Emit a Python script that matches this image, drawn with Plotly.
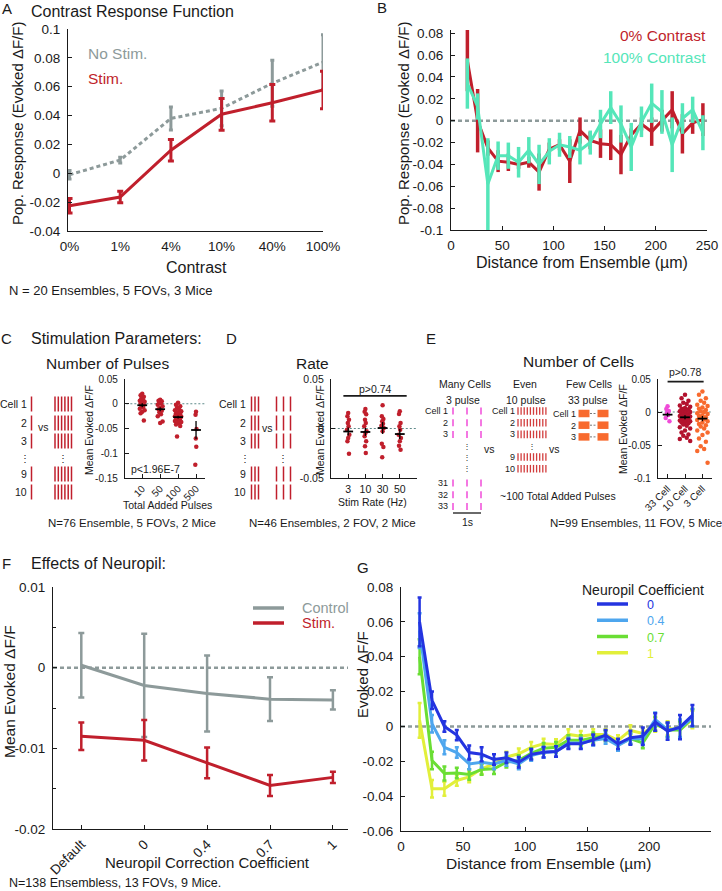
import plotly.graph_objects as go

W, H = 722, 891

# ---------------- data ----------------
# A: contrast response function
contrast_labels = ["0%", "1%", "4%", "10%", "40%", "100%"]
nostim_mean = [-0.001, 0.0092, 0.038, 0.045, 0.0624, 0.077]
nostim_err = [0.003, 0.002, 0.008, 0.012, 0.016, 0.019]
stim_mean = [-0.0225, -0.0165, 0.016, 0.0409, 0.0489, 0.0577]
stim_err = [0.005, 0.004, 0.0075, 0.011, 0.0127, 0.013]

# B: response vs distance
dist_b = [16, 26, 36, 46, 56, 66, 76, 86, 96, 106, 116, 126, 136, 146, 156, 166,
          176, 186, 196, 206, 216, 226, 236, 246]
zero_mean = [0.055, 0.0, -0.025, -0.037, -0.038, -0.04, -0.038, -0.047, -0.026, -0.022,
             -0.037, -0.009, -0.018, -0.021, -0.022, -0.031, -0.013, -0.003, -0.01, 0.0,
             0.01, -0.012, -0.002, 0.001]
zero_err = [0.028, 0.029, 0.007, 0.01, 0.008, 0.004, 0.005, 0.017, 0.006, 0.005,
            0.02, 0.012, 0.008, 0.013, 0.014, 0.018, 0.006, 0.006, 0.013, 0.01,
            0.017, 0.018, 0.01, 0.015]
full_mean = [0.034, 0.013, -0.058, -0.032, -0.032, -0.038, -0.027, -0.04, -0.028, -0.022,
             -0.024, -0.027, -0.02, -0.003, 0.012, -0.003, -0.024, -0.001, 0.016, 0.008,
             -0.022, 0.002, 0.01, -0.011]
full_err = [0.023, 0.012, 0.042, 0.013, 0.012, 0.014, 0.012, 0.018, 0.012, 0.011,
            0.01, 0.013, 0.011, 0.013, 0.015, 0.017, 0.022, 0.014, 0.018, 0.02,
            0.025, 0.014, 0.012, 0.016]

# C: number of pulses
pulse_labels = ["10", "50", "100", "500"]
pulse_dots = [
    [0.020, 0.017, 0.014, 0.011, 0.008, 0.006, 0.004, 0.002, 0.0, -0.002, -0.004,
     -0.007, -0.010, -0.013, -0.016, -0.019, -0.034],
    [0.008, 0.006, 0.005, 0.003, 0.001, -0.002, -0.005, -0.008, -0.011, -0.014,
     -0.017, -0.021, -0.025, -0.036, -0.039],
    [0.002, -0.002, -0.005, -0.008, -0.011, -0.013, -0.015, -0.017, -0.019, -0.020,
     -0.021, -0.023, -0.025, -0.026, -0.027, -0.029, -0.030, -0.031, -0.033, -0.035,
     -0.037, -0.039, -0.042, -0.045, -0.066],
    [-0.016, -0.022, -0.051, -0.070, -0.087, -0.123],
]
pulse_mean = [-0.003, -0.011, -0.027, -0.053]
pulse_err = [0.004, 0.004, 0.003, 0.018]

# D: stim rate
rate_labels = ["3", "10", "30", "50"]
rate_dots = [
    [0.0157, 0.0123, 0.0089, 0.0056, 0.0022, -0.0012, -0.0062, -0.0096, -0.013, -0.0254],
    [0.0197, 0.017, 0.0143, 0.0089, 0.0056, 0.0022, -0.0029, -0.0045, -0.0079, -0.013,
     -0.018, -0.0247],
    [0.0234, 0.0123, 0.0096, 0.0072, 0.0049, 0.0029, 0.0005, -0.0029, -0.0153, -0.0187,
     -0.029],
    [0.0173, 0.0146, 0.0056, 0.0022, -0.0012, -0.0062, -0.0096, -0.013, -0.0173, -0.0214],
]
rate_mean = [-0.003, -0.0035, 0.0005, -0.0056]
rate_err = [0.004, 0.004, 0.006, 0.005]

# E: number of cells
cell_labels = ["33 Cell", "10 Cell", "3 Cell"]
cell_dots = [
    [0.0086, 0.0045, 0.0015, -0.0015, -0.0045, -0.009, -0.014],
    [0.026, 0.021, 0.017, 0.014, 0.012, 0.010, 0.008, 0.006, 0.005, 0.004, 0.003, 0.002,
     0.001, 0.0, -0.001, -0.002, -0.003, -0.004, -0.005, -0.006, -0.007, -0.008, -0.009,
     -0.010, -0.011, -0.012, -0.013, -0.014, -0.015, -0.016, -0.017, -0.019, -0.021,
     -0.023, -0.025, -0.028, -0.031, -0.034, -0.036, -0.039, -0.041, -0.044],
    [0.031, 0.026, 0.021, 0.017, 0.014, 0.011, 0.009, 0.007, 0.005, 0.003, 0.001, 0.0,
     -0.002, -0.003, -0.005, -0.006, -0.008, -0.009, -0.011, -0.012, -0.014, -0.016,
     -0.018, -0.020, -0.022, -0.025, -0.028, -0.031, -0.035, -0.040, -0.045, -0.052,
     -0.056, -0.059, -0.077],
]
cell_mean = [-0.004, -0.008, -0.010]
cell_err = [0.003, 0.003, 0.004]

# F: neuropil correction
coef_labels = ["Default", "0", "0.4", "0.7", "1"]
control_mean = [0.0003, -0.0022, -0.0032, -0.0039, -0.004]
control_err = [0.004, 0.0064, 0.0047, 0.0027, 0.0012]
stimf_mean = [-0.0085, -0.009, -0.0118, -0.0146, -0.0136]
stimf_err = [0.0017, 0.0025, 0.0019, 0.0013, 0.0007]

# G: distance curves per neuropil coefficient
dist_g = [15, 25, 35, 45, 55, 65, 75, 85, 95, 105, 115, 125, 135, 145, 155, 165, 175,
          185, 195, 205, 215, 225, 235]
g_names = ["0", "0.4", "0.7", "1"]
g_coef0 = [0.06, 0.015, 0.0, -0.005, -0.015, -0.016, -0.019, -0.018, -0.0205, -0.016,
           -0.0148, -0.0144, -0.01, -0.01, -0.0077, -0.005, -0.01, -0.0065, -0.0056,
           0.0025, -0.0027, -0.0004, 0.0063]
g_coef04 = [0.055, 0.0015, -0.012, -0.015, -0.0215, -0.0205, -0.0215, -0.0195, -0.0215,
            -0.0167, -0.0148, -0.0144, -0.0095, -0.0095, -0.008, -0.007, -0.011, -0.007,
            -0.007, 0.004, -0.002, -0.001, 0.005]
g_coef07 = [0.04, -0.0195, -0.027, -0.0267, -0.0276, -0.0247, -0.0243, -0.0205, -0.0195,
            -0.0155, -0.0125, -0.012, -0.008, -0.008, -0.0065, -0.0055, -0.0105, -0.007,
            -0.0095, 0.0015, -0.002, -0.002, 0.005]
g_coef1 = [0.0035, -0.0358, -0.0358, -0.031, -0.029, -0.0243, -0.0215, -0.0176, -0.0157,
           -0.012, -0.01, -0.0104, -0.0046, -0.0056, -0.0046, -0.0046, -0.008, -0.0023,
           -0.004, 0.001, -0.001, -0.002, 0.004]
g_err0 = [0.014, 0.005, 0.003, 0.003, 0.004, 0.004, 0.003, 0.003, 0.003, 0.003, 0.003,
          0.003, 0.003, 0.003, 0.003, 0.003, 0.003, 0.004, 0.005, 0.005, 0.005, 0.007, 0.006]
g_err_other = [0.010, 0.005, 0.004, 0.003, 0.003, 0.003, 0.003, 0.003, 0.003, 0.003,
               0.003, 0.003, 0.003, 0.003, 0.003, 0.003, 0.003, 0.003, 0.003, 0.004,
               0.004, 0.005, 0.005]

# ---------------- styling ----------------
FONT = "Arial, Liberation Sans, sans-serif"
INK = "#1a1a1a"
RED = "#c01f2c"
GRAY = "#8d9a9a"
CYAN = "#55e6b9"
MAGENTA = "#f04bd8"
DARKRED = "#b3122e"
ORANGE = "#f86a2e"
G_COLORS = ["#2434e0", "#4ea6ee", "#6ade34", "#e2ef3a"]
DOT = "4px,3px"


def fx(px):
    return px / W


def fy(py):
    return 1 - py / H


def ax_name(n, letter):
    return f"{letter}axis" if n == 1 else f"{letter}axis{n}"


def ref(n, letter):
    return letter if n == 1 else f"{letter}{n}"


layout = {}
annotations = []


def add_axes(n, xpx, ypx, xrange, yrange, xt, yt, size=13, xangle=0, xstand=3, ystand=4):
    base = dict(showline=True, linecolor=INK, linewidth=1.2, ticks="inside", ticklen=4,
                tickcolor=INK, showgrid=False, zeroline=False, automargin=False,
                tickfont=dict(size=size, color=INK, family=FONT))
    layout[ax_name(n, "x")] = dict(base, domain=[fx(xpx[0]), fx(xpx[1])], range=xrange,
                                   anchor=ref(n, "y"), tickmode="array", tickvals=xt[0],
                                   ticktext=xt[1], tickangle=xangle,
                                   ticklabelstandoff=xstand)
    layout[ax_name(n, "y")] = dict(base, domain=[fy(ypx[1]), fy(ypx[0])], range=yrange,
                                   anchor=ref(n, "x"), tickmode="array", tickvals=yt[0],
                                   ticktext=yt[1], ticklabelstandoff=ystand)


def note(text, x, y, size=13, color=INK, xanchor="center", angle=0):
    annotations.append(dict(text=text, x=fx(x), y=fy(y), xref="paper", yref="paper",
                            showarrow=False, xanchor=xanchor, yanchor="middle",
                            align=xanchor if xanchor != "center" else "center",
                            textangle=angle, font=dict(size=size, color=color, family=FONT)))


def stack(labels, x, y_mid, size):
    # right-aligned block of row labels, one text
    note("<br>".join(labels), x, y_mid, size, xanchor="right")


fig = go.Figure()


def line(n, x, y, color, width=3, dash=None, err=None, ethick=3, ewidth=3, clip=True):
    fig.add_trace(go.Scatter(
        x=x, y=y, mode="lines", xaxis=ref(n, "x"), yaxis=ref(n, "y"),
        line=dict(color=color, width=width, dash=dash), cliponaxis=clip,
        error_y=dict(type="data", array=err, color=color, thickness=ethick,
                     width=ewidth, visible=err is not None),
        showlegend=False, hoverinfo="skip"))


def hline(n, x0, x1, color, width=2.5, dash=DOT, yv=0):
    fig.add_trace(go.Scatter(x=[x0, x1], y=[yv, yv], mode="lines", xaxis=ref(n, "x"),
                             yaxis=ref(n, "y"), line=dict(color=color, width=width, dash=dash),
                             showlegend=False, hoverinfo="skip"))


jit = [0.0, -0.09, 0.09, -0.045, 0.045, -0.135, 0.135]


def swarm(n, dots, means, errs, colors, spread):
    hline(n, -1, 10, "#5f8a8a", width=1, dash="2px,2px")
    for i, col in enumerate(dots):
        xs = [i + 1 + jit[k % len(jit)] * spread[i] for k in range(len(col))]
        fig.add_trace(go.Scatter(x=xs, y=col, mode="markers", xaxis=ref(n, "x"),
                                 yaxis=ref(n, "y"), marker=dict(size=4.5, color=colors[i]),
                                 showlegend=False, hoverinfo="skip"))
    fig.add_trace(go.Scatter(
        x=[i + 1 for i in range(len(means))], y=means, mode="markers",
        xaxis=ref(n, "x"), yaxis=ref(n, "y"),
        marker=dict(symbol="line-ew", size=7, line=dict(width=1.8, color="black")),
        error_y=dict(type="data", array=errs, color="black", thickness=1.3, width=0),
        showlegend=False, hoverinfo="skip"))


# ---------- A ----------
add_axes(1, (68, 323), (29, 231), [-0.03, 5.0], [-0.04, 0.1],
         (list(range(6)), contrast_labels),
         ([-0.04, -0.02, 0, 0.02, 0.04, 0.06, 0.08, 0.1],
          ["-0.04", "-0.02", "0", "0.02", "0.04", "0.06", "0.08", "0.1"]), size=13.5)
layout["xaxis"]["ticks"] = ""
line(1, list(range(6)), nostim_mean, GRAY, dash=DOT, err=nostim_err, ewidth=2, clip=False)
line(1, list(range(6)), stim_mean, RED, err=stim_err, clip=False)
note("A", 7, 9, 15)
note("Contrast Response Function", 29, 11, 16, xanchor="left")
note("Pop. Response (Evoked ΔF/F)", 17, 124, 15, angle=-90)
note("Contrast", 196, 267, 16)
note("No Stim.", 86, 54, 15.5, GRAY, xanchor="left")
note("Stim.", 86, 78, 15.5, RED, xanchor="left")
note("N = 20 Ensembles, 5 FOVs, 3 Mice", 7, 290, 13, xanchor="left")

# ---------- B ----------
add_axes(2, (451, 707), (30, 230), [0, 250], [-0.1, 0.083],
         ([0, 50, 100, 150, 200, 250], ["0", "50", "100", "150", "200", "250"]),
         ([-0.1, -0.08, -0.06, -0.04, -0.02, 0, 0.02, 0.04, 0.06, 0.08],
          ["-0.1", "-0.08", "-0.06", "-0.04", "-0.02", "0", "0.02", "0.04", "0.06", "0.08"]),
         size=13.5)
hline(2, 0, 250, GRAY)
line(2, dist_b, zero_mean, RED, err=zero_err, ethick=3.5, ewidth=0)
line(2, dist_b, full_mean, CYAN, err=full_err, ethick=3.5, ewidth=0)
note("B", 382, 8, 15)
note("Pop. Response (Evoked ΔF/F)", 403, 124, 15, angle=-90)
note("Distance from Ensemble (µm)", 582, 262, 16)
note("0% Contrast", 708, 35, 15.5, RED, xanchor="right")
note("100% Contrast", 708, 57, 15.5, CYAN, xanchor="right")

# ---------- C ----------
add_axes(3, (125, 205), (379, 478), [0.04, 4.5], [-0.15, 0.05],
         ([1, 2, 3, 4], pulse_labels),
         ([-0.15, -0.1, -0.05, 0, 0.05], ["-0.15", "-0.1", "-0.05", "0", "0.05"]),
         size=10.5, xangle=-45, xstand=0)
layout["xaxis3"]["tickfont"]["size"] = 10
swarm(3, pulse_dots, pulse_mean, pulse_err, [RED] * 4, [1.0, 1.0, 1.3, 0.3])
note("C", 6, 338, 15)
note("Stimulation Parameters:", 29, 338, 16, xanchor="left")
note("Number of Pulses", 108, 363, 15.5)
note("Mean Evoked ΔF/F", 89, 430, 10.5, angle=-90)
note("Total Added Pulses", 167, 505, 10.5)
note("p<1.96E-7", 129, 469, 10.5, xanchor="left")
note("N=76 Ensemble, 5 FOVs, 2 Mice", 132, 523, 11.5)

# ---------- D ----------
add_axes(4, (331, 417), (379, 478), [0, 5], [-0.05, 0.05],
         ([1, 2, 3, 4], rate_labels),
         ([-0.05, 0, 0.05], ["-0.05", "0", "0.05"]), size=10.5, xstand=1)
swarm(4, rate_dots, rate_mean, rate_err, [RED] * 4, [0.5, 0.5, 0.5, 0.5])
hline(4, 0.72, 4.4, INK, width=1.6, dash=None, yv=0.033)
note("D", 231, 338, 15)
note("Rate", 312, 363, 15.5)
note("Mean Evoked ΔF/F", 320, 430, 10.5, angle=-90)
note("Stim Rate (Hz)", 373, 502, 10.5)
note("p>0.74", 375, 389, 10.5)
note("N=46 Ensembles, 2 FOV, 2 Mice", 332, 523, 11.5)

# ---------- E ----------
add_axes(5, (658, 712), (379, 478), [0.45, 3.55], [-0.1, 0.05],
         ([1, 2, 3], cell_labels),
         ([-0.1, -0.05, 0, 0.05], ["-0.1", "-0.05", "0", "0.05"]),
         size=10.5, xangle=-45, xstand=0)
layout["xaxis5"]["tickfont"]["size"] = 10
swarm(5, cell_dots, cell_mean, cell_err, [MAGENTA, DARKRED, ORANGE], [0.8, 2.2, 2.2])
hline(5, 1.0, 3.07, INK, width=1.6, dash=None, yv=0.046)
note("E", 431, 338, 15)
note("Number of Cells", 578, 362, 15.5)
note("Mean Evoked ΔF/F", 623, 429, 10.5, angle=-90)
note("p>0.78", 685, 372, 10.5)
note("N=99 Ensembles, 11 FOV, 5 Mice", 636, 523, 11.5)

# ---------- F ----------
add_axes(6, (53, 348), (587, 829), [0.55, 5.24], [-0.02, 0.01],
         ([1, 2, 3, 4, 5], coef_labels),
         ([-0.02, -0.01, 0, 0.01], ["-0.02", "-0.01", "0", "0.01"]),
         size=12.5, xangle=-45, xstand=1)
layout["xaxis6"]["tickfont"]["size"] = 13.5
layout["yaxis6"]["minor"] = dict(ticks="inside", ticklen=3, dtick=0.005, tick0=0,
                                 tickcolor=INK)
hline(6, 0.55, 5.24, GRAY)
line(6, [1, 2, 3, 4, 5], control_mean, GRAY, err=control_err, ethick=2.5, ewidth=3)
line(6, [1, 2, 3, 4, 5], stimf_mean, RED, err=stimf_err, ethick=2.5, ewidth=3)
note("F", 6, 563, 15)
note("Effects of Neuropil:", 29, 563, 16, xanchor="left")
note("Mean Evoked ΔF/F", 9, 692, 15.5, angle=-90)
note("Neuropil Correction Coefficient", 207, 862, 15)
note("Control", 300, 608, 14.5, GRAY, xanchor="left")
note("Stim.", 300, 623, 14.5, RED, xanchor="left")
note("N=138 Ensembless, 13 FOVs, 9 Mice.", 7, 883, 12.5, xanchor="left")

# ---------- G ----------
add_axes(7, (401, 711), (587, 831), [0, 250], [-0.06, 0.08],
         ([0, 50, 100, 150, 200, 250], ["0", "50", "100", "150", "200", "250"]),
         ([-0.06, -0.04, -0.02, 0, 0.02, 0.04, 0.06, 0.08],
          ["-0.06", "-0.04", "-0.02", "0", "0.02", "0.04", "0.06", "0.08"]), size=13.5)
hline(7, 0, 250, GRAY)
g_series = [g_coef0, g_coef04, g_coef07, g_coef1]
g_errs = [g_err0, g_err_other, g_err_other, g_err_other]
for i in [3, 2, 1, 0]:
    line(7, dist_g, g_series[i], G_COLORS[i], width=3, err=g_errs[i], ethick=2.5, ewidth=2)
note("G", 363, 567, 15)
note("Evoked ΔF/F", 362, 675, 15, angle=-90)
note("Distance from Ensemble (µm)", 548, 863, 15.5)
note("Neuropil Coefficient", 643, 590, 14)
LEG_SIZE = 12.5
legend_y = [604 + k * LEG_SIZE * 1.3 for k in range(4)]
legend_text = "<br>".join(f"<span style='color:{G_COLORS[i]}'>{name}</span>"
                          for i, name in enumerate(g_names))
annotations.append(dict(text=legend_text, x=fx(645), y=fy(legend_y[0] - LEG_SIZE * 0.65),
                        xref="paper", yref="paper", showarrow=False, xanchor="left",
                        yanchor="top", align="left",
                        font=dict(size=LEG_SIZE, family=FONT, color=INK)))

# ---------- overlay axis (px coordinates) for schematics and legend swatches ----------
layout["xaxis8"] = dict(domain=[0, 1], range=[0, W], visible=False, anchor="y8",
                        automargin=False)
layout["yaxis8"] = dict(domain=[0, 1], range=[H, 0], visible=False, anchor="x8",
                        automargin=False)


def segs(pairs, color, width, dash=None):
    xs, ys = [], []
    for (x0, y0, x1, y1) in pairs:
        xs += [x0, x1, None]
        ys += [y0, y1, None]
    fig.add_trace(go.Scatter(x=xs, y=ys, mode="lines", xaxis="x8", yaxis="y8",
                             line=dict(color=color, width=width, dash=dash),
                             showlegend=False, hoverinfo="skip"))


# legend swatches F and G
segs([(253, 608, 284, 608)], GRAY, 3.5)
segs([(253, 623, 284, 623)], RED, 3.5)
for i in range(4):
    segs([(597, legend_y[i], 628, legend_y[i])], G_COLORS[i], 3.5)

# C schematic: 1 pulse vs 6 pulses per cell
row_labels_cd = ["Cell 1", "2", "3", "9", "10"]
row_y_cd = [404, 423, 441, 474, 492]
c_single = [31.5]
c_train = [55, 58.3, 61.6, 64.9, 68.2, 71.5]
bars = []
for y in row_y_cd:
    for x in c_single + c_train:
        bars.append((x, y - 7.5, x, y + 7.5))
segs(bars, RED, 1.5)
for lab, y in zip(row_labels_cd, row_y_cd):
    note(lab, 29, y, 10.5, xanchor="right")
note("⋮", 25, 458, 10)
note("⋮", 63, 458, 10)
note("vs", 43, 427, 10.5)

# D schematic: 3 fast pulses vs 3 slow pulses
d_fast = [251.5, 255, 258.5]
d_slow = [276.5, 283.5, 290.5]
bars = []
for y in row_y_cd:
    for x in d_fast + d_slow:
        bars.append((x, y - 7.5, x, y + 7.5))
segs(bars, RED, 1.5)
for lab, y in zip(row_labels_cd, row_y_cd):
    note(lab, 248, y, 10.5, xanchor="right")
note("⋮", 245, 458, 10)
note("⋮", 283, 458, 10)
note("vs", 267, 428, 10.5)

# E schematic
SF = 9.0
ROW = SF * 1.3
many_top = ["Cell 1", "2", "3"]
many_bottom = ["31", "32", "33"]
many_y = [411, 411 + ROW, 411 + 2 * ROW, 483, 483 + ROW, 483 + 2 * ROW]
many_x = [453, 467, 481]
segs([(x, y - 3.5, x, y + 3.5) for y in many_y for x in many_x], MAGENTA, 1.5)
stack(many_top, 450, many_y[1], SF)
stack(many_bottom, 450, many_y[4], SF)
for y in [446, 457, 468]:
    note("⋮", 467, y, 8)
segs([(453, 513, 481, 513)], INK, 1.3)
note("1s", 467, 522, 10.5)

even_top = ["Cell 1", "2", "3"]
even_bottom = ["9", "10"]
even_y = [411, 411 + ROW, 411 + 2 * ROW, 457, 457 + ROW]
even_x = [518, 521.1, 524.2, 527.3, 530.4, 533.5, 536.6, 539.7, 542.8, 545.9]
segs([(x, y - 3.8, x, y + 3.8) for y in even_y for x in even_x], "#d23c3c", 1.3)
stack(even_top, 517, even_y[1], SF)
stack(even_bottom, 517, (even_y[3] + even_y[4]) / 2, SF)
note("⋮", 532, 446, 8)

few_labels = ["Cell 1", "2", "3"]
few_y = [413.5, 413.5 + ROW, 413.5 + 2 * ROW]
blocks = []
for y in few_y:
    blocks += [(578.5, y, 589.5, y), (597.5, y, 608.5, y)]
segs(blocks, ORANGE, 7.5)
segs([(590, y, 597, y) for y in few_y], "#777777", 1, dash="2px,1.5px")
stack(few_labels, 578, few_y[1], SF)

note("Many Cells", 465, 384, 10.5)
note("Even", 525, 384, 10.5)
note("Few Cells", 589, 384, 10.5)
note("3 pulse", 463, 400, 10.5)
note("10 pulse", 526, 400, 10.5)
note("33 pulse", 588, 400, 10.5)
note("vs", 490, 449, 10.5)
note("vs", 554, 449, 10.5)
note("~100 Total Added Pulses", 558, 496, 10.5)

fig.update_layout(
    width=W, height=H, margin=dict(l=0, r=0, t=0, b=0, autoexpand=False),
    paper_bgcolor="white", plot_bgcolor="rgba(0,0,0,0)",
    font=dict(family=FONT, color=INK), showlegend=False,
    annotations=annotations, **layout)

# page body has a default 8px margin; drop it so the figure sits at the window origin
fig.write_html("out.html", config={"displayModeBar": False},
               post_script="document.body.style.margin='0';"
                           "document.body.style.overflow='hidden';")
